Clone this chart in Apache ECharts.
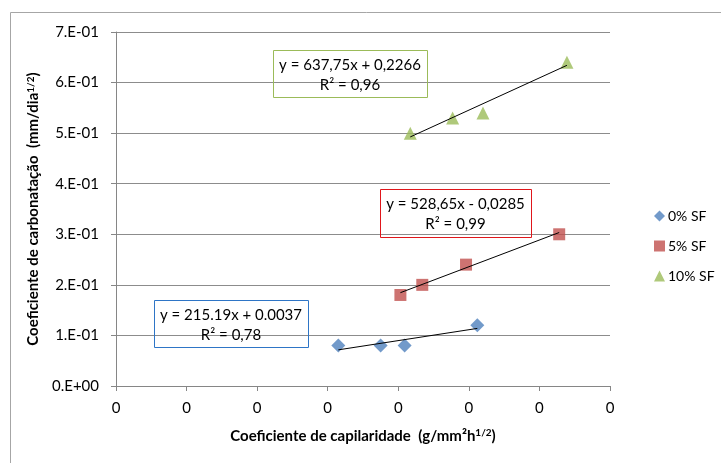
<!DOCTYPE html>
<html>
<head>
<meta charset="utf-8">
<script src="https://cdn.jsdelivr.net/npm/echarts@6/dist/echarts.min.js"></script>
<style>
  html, body { margin: 0; padding: 0; background: #fff; }
  #chart { width: 721px; height: 463px; }
</style>
</head>
<body>
<div id="chart"></div>
<script>
// dados
var seriesNames = ['0% SF', '5% SF', '10% SF'];
var x0 = [0.000315, 0.000375, 0.000409, 0.000512];
var y0 = [0.08, 0.08, 0.08, 0.12];
var x5 = [0.000403, 0.000434, 0.000496, 0.000628];
var y5 = [0.18, 0.20, 0.24, 0.30];
var x10 = [0.000417, 0.000477, 0.000520, 0.000639];
var y10 = [0.50, 0.53, 0.54, 0.64];
// linhas de tendência (coeficientes das equações)
var slopes = [215.19, 528.65, 637.75];
var intercepts = [0.0037, -0.0285, 0.2266];
var eqLabels = ['y = 215.19x + 0.0037', 'y = 528,65x - 0,0285', 'y = 637,75x + 0,2266'];
var r2Labels = ['R² = 0,78', 'R² = 0,99', 'R² = 0,96'];

var colors = ['#4F81BD', '#C0504D', '#9BBB59'];
var boxColors = ['#2E75C6', '#E0161B', '#9BBB59'];
var symbols = ['diamond', 'rect', 'triangle'];
var sizes = [14, 12, 13];
var font = 'Lato, "Liberation Sans", sans-serif';

var xs = [x0, x5, x10];
var ys = [y0, y5, y10];

function pairs(a, b) {
  return a.map(function (v, i) { return [v, b[i]]; });
}

function trend(i) {
  var lo = Math.min.apply(null, xs[i]);
  var hi = Math.max.apply(null, xs[i]);
  return [[lo, slopes[i] * lo + intercepts[i]], [hi, slopes[i] * hi + intercepts[i]]];
}

function sciLabel(v) {
  if (v === 0) return '0.E+00';
  var e = Math.floor(Math.log10(v) + 1e-9);
  var m = Math.round(v / Math.pow(10, e));
  var sign = e < 0 ? '-' : '+';
  var ae = Math.abs(e);
  return m + '.E' + sign + (ae < 10 ? '0' + ae : ae);
}

var series = [];
for (var i = 0; i < 3; i++) {
  series.push({
    name: seriesNames[i],
    type: 'scatter',
    symbol: symbols[i],
    symbolSize: sizes[i],
    itemStyle: { color: colors[i] },
    data: pairs(xs[i], ys[i]),
    z: 3
  });
}
for (var j = 0; j < 3; j++) {
  series.push({
    name: 'trend' + j,
    type: 'line',
    data: trend(j),
    symbol: 'none',
    lineStyle: { color: '#000', width: 1 },
    silent: true,
    z: 4
  });
}

// caixas com as equações
var boxes = [
  { left: 154, top: 300, w: 154, h: 47 },
  { left: 380, top: 189, w: 151, h: 48 },
  { left: 273, top: 50, w: 154, h: 47 }
];
var graphics = [{
  type: 'rect',
  shape: { x: 10.5, y: 12.5, width: 800, height: 500 },
  style: { fill: null, stroke: '#A6A6A6', lineWidth: 1 },
  silent: true
}];
boxes.forEach(function (b, k) {
  graphics.push(
    { type: 'rect', z: 10, shape: { x: b.left + 0.5, y: b.top + 0.5, width: b.w, height: b.h },
      style: { fill: null, stroke: boxColors[k], lineWidth: 1 } },
    { type: 'text', z: 10, x: b.left + b.w / 2, y: b.top + 15.5, style: { text: eqLabels[k], font: '15px ' + font,
      fill: '#000', align: 'center', verticalAlign: 'middle' } },
    { type: 'text', z: 10, x: b.left + b.w / 2, y: b.top + 35, style: { text: r2Labels[k], font: '15px ' + font,
      fill: '#000', align: 'center', verticalAlign: 'middle' } }
  );
});

var chart = echarts.init(document.getElementById('chart'));
chart.setOption({
  animation: false,
  textStyle: { fontFamily: font },
  grid: { left: 116, right: 111, top: 32, bottom: 77 },
  legend: {
    data: seriesNames,
    orient: 'vertical',
    left: 649,
    top: 204,
    itemWidth: 11,
    itemHeight: 11,
    itemGap: 16,
    textStyle: { fontSize: 14, color: '#000', fontFamily: font, padding: [0, 0, 0, -2] }
  },
  xAxis: {
    type: 'value',
    min: 0,
    max: 0.0007,
    interval: 0.0001,
    name: '{b|Coeficiente de capilaridade  (g/mm²h}{s|1/2}{b|)}',
    nameLocation: 'middle',
    nameGap: 42,
    nameTextStyle: {
      rich: {
        b: { fontSize: 15, fontWeight: 'bold', color: '#000', fontFamily: font },
        s: { fontSize: 10, fontWeight: 'bold', color: '#000', fontFamily: font, verticalAlign: 'top', padding: [0, 0, 6, 0] }
      }
    },
    axisLine: { show: true, lineStyle: { color: '#868686' } },
    axisTick: { show: true, inside: false, length: 5, lineStyle: { color: '#868686' } },
    splitLine: { show: false },
    axisLabel: {
      margin: 15,
      fontSize: 15,
      color: '#000',
      formatter: function (v) { return String(Math.round(v)); }
    }
  },
  yAxis: {
    type: 'value',
    min: 0,
    max: 0.7,
    interval: 0.1,
    name: '{b|Coeficiente de carbonatação  (mm/dia}{s|1/2}{b|)}',
    nameLocation: 'middle',
    nameRotate: 90,
    nameGap: 74,
    nameTextStyle: {
      rich: {
        b: { fontSize: 15, fontWeight: 'bold', color: '#000', fontFamily: font },
        s: { fontSize: 10, fontWeight: 'bold', color: '#000', fontFamily: font, verticalAlign: 'top', padding: [0, 0, 6, 0] }
      }
    },
    axisLine: { show: true, lineStyle: { color: '#868686' } },
    axisTick: { show: true, inside: false, length: 5, lineStyle: { color: '#868686' } },
    splitLine: { show: true, lineStyle: { color: '#8C8C8C', width: 1 } },
    axisLabel: {
      margin: 17,
      fontSize: 15,
      color: '#000',
      formatter: sciLabel
    }
  },
  graphic: graphics,
  series: series
});
</script>
</body>
</html>
